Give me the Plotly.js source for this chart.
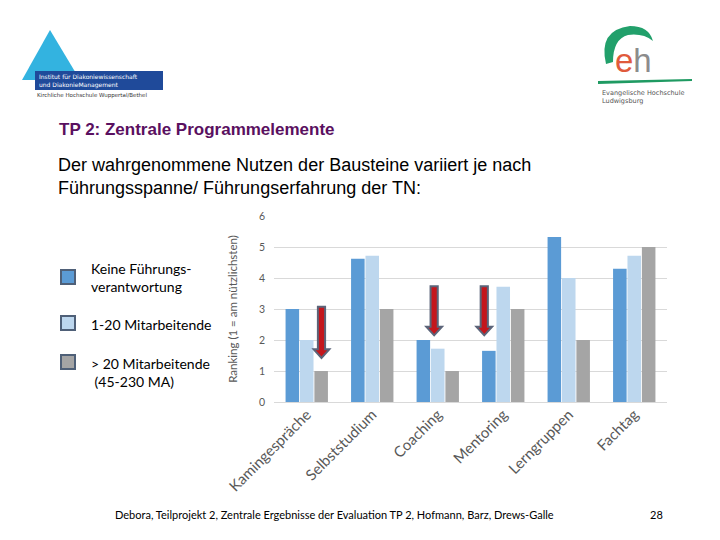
<!DOCTYPE html>
<html><head><meta charset="utf-8">
<script src="https://cdn.plot.ly/plotly-3.0.1.min.js"></script>
<style>body{margin:0;background:#fff}#c{width:720px;height:540px}</style>
</head><body><div id="c"></div>
<script>
// ---- data ----
const categories = ["Kamingespräche","Selbststudium","Coaching","Mentoring","Lerngruppen","Fachtag"];
const seriesNames = ["Keine Führungs-<br>verantwortung","1-20 Mitarbeitende","> 20 Mitarbeitende<br> (45-230 MA)"];
const keineFuehrung = [3.0, 4.62, 2.0, 1.65, 5.32, 4.3];
const mitarbeitende1bis20 = [2.0, 4.72, 1.72, 3.72, 4.0, 4.72];
const mitarbeitendeUeber20 = [1.0, 3.0, 1.0, 3.0, 2.0, 5.0];
const yTicks = [0,1,2,3,4,5,6];

const colors = ["#5b9bd5","#bdd7ee","#a5a5a5"];
const seriesValues = [keineFuehrung, mitarbeitende1bis20, mitarbeitendeUeber20];

// plot area geometry (pixels)
const L=274, R=667, T=216, B=402;
const px = x => (x-L)/(R-L);
const py = y => (B-y)/(B-T);
const toPaper = s => s.replace(/(\d+(\.\d+)?) (\d+(\.\d+)?)/g,(m,a,b,c)=>`${px(+a)} ${py(+c)}`);

const traces = seriesValues.map((v,i)=>({
  type:"bar", x:categories, y:v, name:seriesNames[i],
  marker:{color:colors[i], line:{width:0}}, showlegend:false, hoverinfo:"x+y"
}));

const shapes = [];
const annotations = [];
const calib = "Lato, 'Open Sans', sans-serif";

// arrows (category index position, top, tip in data units)
const arrows = [
  {x:0.225, top:3.07, tip:1.42},
  {x:1.945, top:3.73, tip:2.15},
  {x:2.71, top:3.73, tip:2.15}
];
arrows.forEach(a=>{
  const sw=0.055, hw=0.12, hh=0.28;
  const hy=a.tip+hh;
  const p=`M ${a.x-sw} ${a.top} L ${a.x+sw} ${a.top} L ${a.x+sw} ${hy} L ${a.x+hw} ${hy} L ${a.x} ${a.tip} L ${a.x-hw} ${hy} L ${a.x-sw} ${hy} Z`;
  shapes.push({type:"path", xref:"x", yref:"y", path:p, fillcolor:"#c4161c", line:{color:"#5b6479", width:2}, layer:"above"});
});

// custom legend
const legY = [277, 323, 362];
const legTextY = [277, 324, 372];
legY.forEach((y,i)=>{
  shapes.push({type:"rect", xref:"paper", yref:"paper", x0:px(61), x1:px(75), y0:py(y+7), y1:py(y-7),
    fillcolor:colors[i], line:{color:"#4f6078", width:2}});
  annotations.push({xref:"paper",yref:"paper",x:px(89),y:py(legTextY[i]),xanchor:"left",yanchor:"middle",align:"left",showarrow:false,
    text:seriesNames[i], font:{family:calib, size:14, color:"#000"}});
});

// titles
annotations.push({xref:"paper",yref:"paper",x:px(57),y:py(129),xanchor:"left",yanchor:"middle",showarrow:false,
  text:"<b>TP 2: Zentrale Programmelemente</b>", font:{family:"Liberation Sans, Arial, sans-serif", size:17, color:"#5a1060"}});
annotations.push({xref:"paper",yref:"paper",x:px(56),y:py(176),xanchor:"left",yanchor:"middle",align:"left",showarrow:false,
  text:"Der wahrgenommene Nutzen der Bausteine variiert je nach<br>Führungsspanne/ Führungserfahrung der TN:",
  font:{family:"Liberation Sans, Arial, sans-serif", size:18, color:"#000"}});

// footer
annotations.push({xref:"paper",yref:"paper",x:px(113),y:py(514),xanchor:"left",yanchor:"middle",showarrow:false,
  text:"Debora, Teilprojekt 2, Zentrale Ergebnisse der Evaluation TP 2, Hofmann, Barz, Drews-Galle",
  font:{family:calib, size:11, color:"#000"}});
annotations.push({xref:"paper",yref:"paper",x:px(656),y:py(514),xanchor:"center",yanchor:"middle",showarrow:false,
  text:"28", font:{family:calib, size:11, color:"#000"}});

// left logo
shapes.push({type:"path", xref:"paper", yref:"paper",
  path:toPaper("M 50 30 L 80 80 L 22 80 Z"), fillcolor:"#33b3e0", line:{width:0}});
shapes.push({type:"rect", xref:"paper", yref:"paper", x0:px(35), x1:px(163), y0:py(71), y1:py(90), fillcolor:"#1f4a9a", line:{width:0}});
annotations.push({xref:"paper",yref:"paper",x:px(37),y:py(80.5),xanchor:"left",yanchor:"middle",align:"left",showarrow:false,
  text:"Institut für Diakoniewissenschaft<br>und DiakonieManagement", font:{family:"DejaVu Sans, sans-serif", size:6, color:"#fff"}});
annotations.push({xref:"paper",yref:"paper",x:px(35),y:py(96),xanchor:"left",yanchor:"middle",showarrow:false,
  text:"Kirchliche Hochschule Wuppertal/Bethel", font:{family:"DejaVu Sans, sans-serif", size:5.5, color:"#333"}});

// right logo
shapes.push({type:"path", xref:"paper", yref:"paper", path:toPaper("M 606 64 Q 598 30 630 26 Q 649 26 653 41 Q 643 33 628 35 Q 613 39 613 62 Z"), fillcolor:"#22a06b", line:{width:0}});
shapes.push({type:"path", xref:"paper", yref:"paper", path:toPaper("M 598 81 L 692 79 L 692 81 L 598 84 Z"), fillcolor:"#1f9a62", line:{width:0}});
annotations.push({xref:"paper",yref:"paper",x:px(613),y:py(60),xanchor:"left",yanchor:"middle",showarrow:false,
  text:"<span style='color:#e05a3c'>e</span><span style='color:#8c8c8c'>h</span>", font:{family:"Liberation Sans, Arial, sans-serif", size:33}});
annotations.push({xref:"paper",yref:"paper",x:px(600),y:py(97),xanchor:"left",yanchor:"middle",align:"left",showarrow:false,
  text:"Evangelische Hochschule<br>Ludwigsburg", font:{family:"DejaVu Sans, sans-serif", size:6.5, color:"#555"}});

const layout = {
  width:720, height:540, paper_bgcolor:"#fff", plot_bgcolor:"#fff",
  margin:{l:L, r:720-R, t:T, b:540-B, pad:0},
  barmode:"group", bargap:0.34, bargroupgap:0.06,
  showlegend:false,
  xaxis:{type:"category", tickangle:-45, showgrid:false, showline:false, zeroline:false, ticks:"",
    tickfont:{family:calib, size:15, color:"#595959"}},
  yaxis:{range:[0,6], tickvals:yTicks, showgrid:true, gridcolor:"#d9d9d9", gridwidth:1, zeroline:true, zerolinecolor:"#d9d9d9",
    showline:false, ticks:"", ticklen:0, ticklabelstandoff:8, tickfont:{family:calib, size:10.5, color:"#595959"},
    title:{text:"Ranking (1 = am nützlichsten)", standoff:18, font:{family:calib, size:11.5, color:"#595959"}}},
  shapes:shapes, annotations:annotations
};
Plotly.newPlot("c", traces, layout, {displayModeBar:false, staticPlot:true});
</script></body></html>
